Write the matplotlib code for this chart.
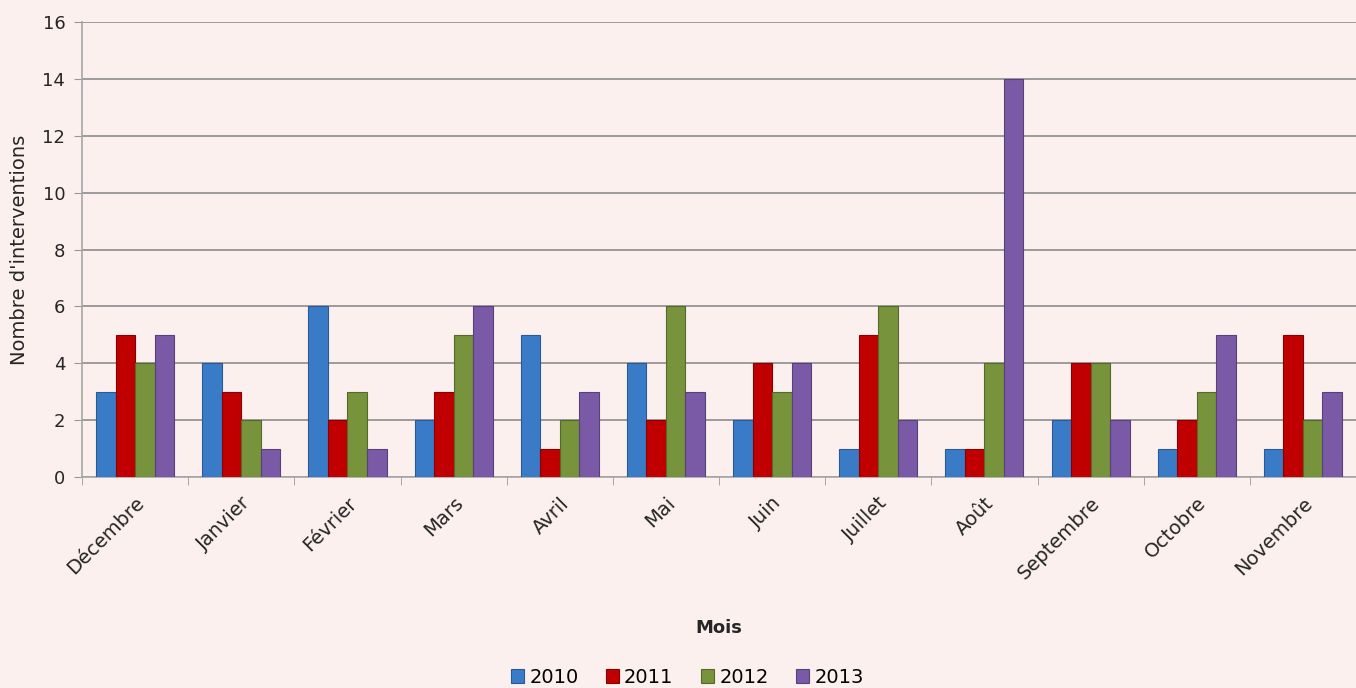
import matplotlib.pyplot as plt
import numpy as np

mois = ["Décembre", "Janvier", "Février", "Mars", "Avril", "Mai", "Juin",
        "Juillet", "Août", "Septembre", "Octobre", "Novembre"]
annees = ["2010", "2011", "2012", "2013"]
v2010 = [3, 4, 6, 2, 5, 4, 2, 1, 1, 2, 1, 1]
v2011 = [5, 3, 2, 3, 1, 2, 4, 5, 1, 4, 2, 5]
v2012 = [4, 2, 3, 5, 2, 6, 3, 6, 4, 4, 3, 2]
v2013 = [5, 1, 1, 6, 3, 3, 4, 2, 14, 2, 5, 3]
series = [v2010, v2011, v2012, v2013]

couleurs = ["#3a7bc8", "#c00000", "#77933c", "#7a5aa6"]
bords = ["#2a5a92", "#8a0000", "#56692b", "#58417a"]
fond = "#fcf0ee"

plt.rcParams["font.family"] = ["DejaVu Sans"]

fig = plt.figure(figsize=(13.56, 6.88), dpi=100, facecolor=fond)
ax = fig.add_axes([0.0605, 0.3067, 0.9395, 0.6613], facecolor=fond)

x = np.arange(len(mois))
w = 0.184
for i, (vals, c, b) in enumerate(zip(series, couleurs, bords)):
    ax.bar(x + (i - 1.5) * w, vals, width=w, color=c, edgecolor=b,
           linewidth=0.8, label=annees[i], zorder=3)

ax.set_xlim(-0.5, len(mois) - 0.5)
ax.set_ylim(0, 16)
ax.set_yticks(range(0, 17, 2))
ax.yaxis.grid(True, color="#8c8c8c", linewidth=1.2, zorder=0)
ax.set_axisbelow(True)

ax.set_xticks(x)
ax.set_xticklabels(mois, rotation=45, ha="right", rotation_mode="anchor",
                   fontsize=14, color="#262626")
ax.set_xticks(np.arange(-0.5, len(mois), 1), minor=True)
ax.tick_params(axis="x", which="major", length=0, pad=12)
ax.tick_params(axis="x", which="minor", length=6, color="#999999")
ax.tick_params(axis="y", length=6, color="#999999", labelsize=13,
               labelcolor="#262626", pad=6)

for s in ["top", "right"]:
    ax.spines[s].set_visible(False)
for s in ["left", "bottom"]:
    ax.spines[s].set_color("#a6a6a6")
    ax.spines[s].set_linewidth(1.2)

ax.set_xlabel("Mois", fontsize=13, fontweight="bold", color="#262626",
              labelpad=26)
ax.set_ylabel("Nombre d'interventions", fontsize=14, color="#262626",
              labelpad=10)

ax.legend(loc="lower center", bbox_to_anchor=(0.475, -0.50), ncol=4,
          frameon=False, fontsize=14, handlelength=0.7, handleheight=0.7,
          handletextpad=0.25, columnspacing=1.4)

fig.savefig("out.png", dpi=100, facecolor=fond)
